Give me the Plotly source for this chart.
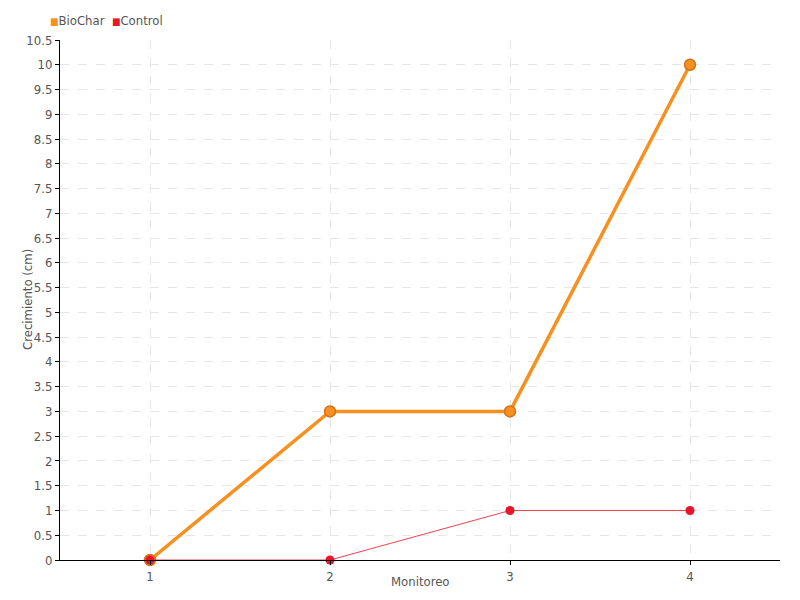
import plotly.graph_objects as go

monitoreo = [1, 2, 3, 4]
biochar = [0, 3, 3, 10]
control = [0, 0, 1, 1]
y_ticks = [i * 0.5 for i in range(22)]
y_labels = [("%g" % v) for v in y_ticks]

font = "Liberation Sans Narrow, DejaVu Sans Condensed, Roboto Condensed, sans-serif"
c_bio = "#f7901e"
c_ctl = "#e8142a"

W, H = 792, 592  # page body offsets the figure by 8px
L, R, T, B = 52, 20, 32, 40
PW, PH = W - L - R, H - T - B

fig = go.Figure()
fig.add_trace(go.Scatter(
    x=monitoreo, y=biochar, name="BioChar", mode="lines+markers", showlegend=False,
    line=dict(color=c_bio, width=3.5), cliponaxis=False,
    marker=dict(color=c_bio, size=11, line=dict(color="#d2721a", width=1.5)),
))
fig.add_trace(go.Scatter(
    x=monitoreo, y=control, name="Control", mode="lines+markers", showlegend=False,
    line=dict(color="#f7404f", width=1), cliponaxis=False,
    marker=dict(color=c_ctl, size=9),
))

legend_text = ("<span style='color:%s;font-size:10px'>■</span>BioChar  "
               "<span style='color:%s;font-size:10px'>■</span>Control") % (c_bio, c_ctl)
fig.add_annotation(text=legend_text, xref="paper", yref="paper",
                   x=-(L - 40) / PW, y=1 + (T - 13) / PH,
                   xanchor="left", yanchor="middle", showarrow=False,
                   font=dict(size=13, color="#555"))
fig.add_annotation(text="Crecimiento (cm)", xref="paper", yref="paper",
                   x=-(L - 19) / PW, y=0.5, textangle=-90,
                   xanchor="center", yanchor="middle", showarrow=False,
                   font=dict(size=13, color="#555"))
fig.add_annotation(text="Monitoreo", xref="paper", yref="paper",
                   x=0.5, y=-(573 - 552) / PH,
                   xanchor="center", yanchor="middle", showarrow=False,
                   font=dict(size=13, color="#555"))

fig.update_layout(
    width=W, height=H,
    margin=dict(l=L, r=R, t=T, b=B),
    paper_bgcolor="white", plot_bgcolor="white",
    font=dict(family=font, size=13, color="#555"),
    showlegend=False,
    xaxis=dict(
        range=[0.5, 4.5], tickvals=monitoreo, ticktext=[str(m) for m in monitoreo],
        showgrid=True, gridcolor="#e6e6e6", griddash="dash", gridwidth=1,
        showline=True, linecolor="black", linewidth=1,
        ticks="outside", ticklen=4, tickcolor="black",
        zeroline=False, automargin=False,
    ),
    yaxis=dict(
        range=[0, 10.5], tickvals=y_ticks, ticktext=y_labels,
        showgrid=True, gridcolor="#e6e6e6", griddash="dash", gridwidth=1,
        showline=True, linecolor="black", linewidth=1,
        ticks="outside", ticklen=4, tickcolor="black",
        zeroline=False, automargin=False,
    ),
)

fig.write_html("out.html")
